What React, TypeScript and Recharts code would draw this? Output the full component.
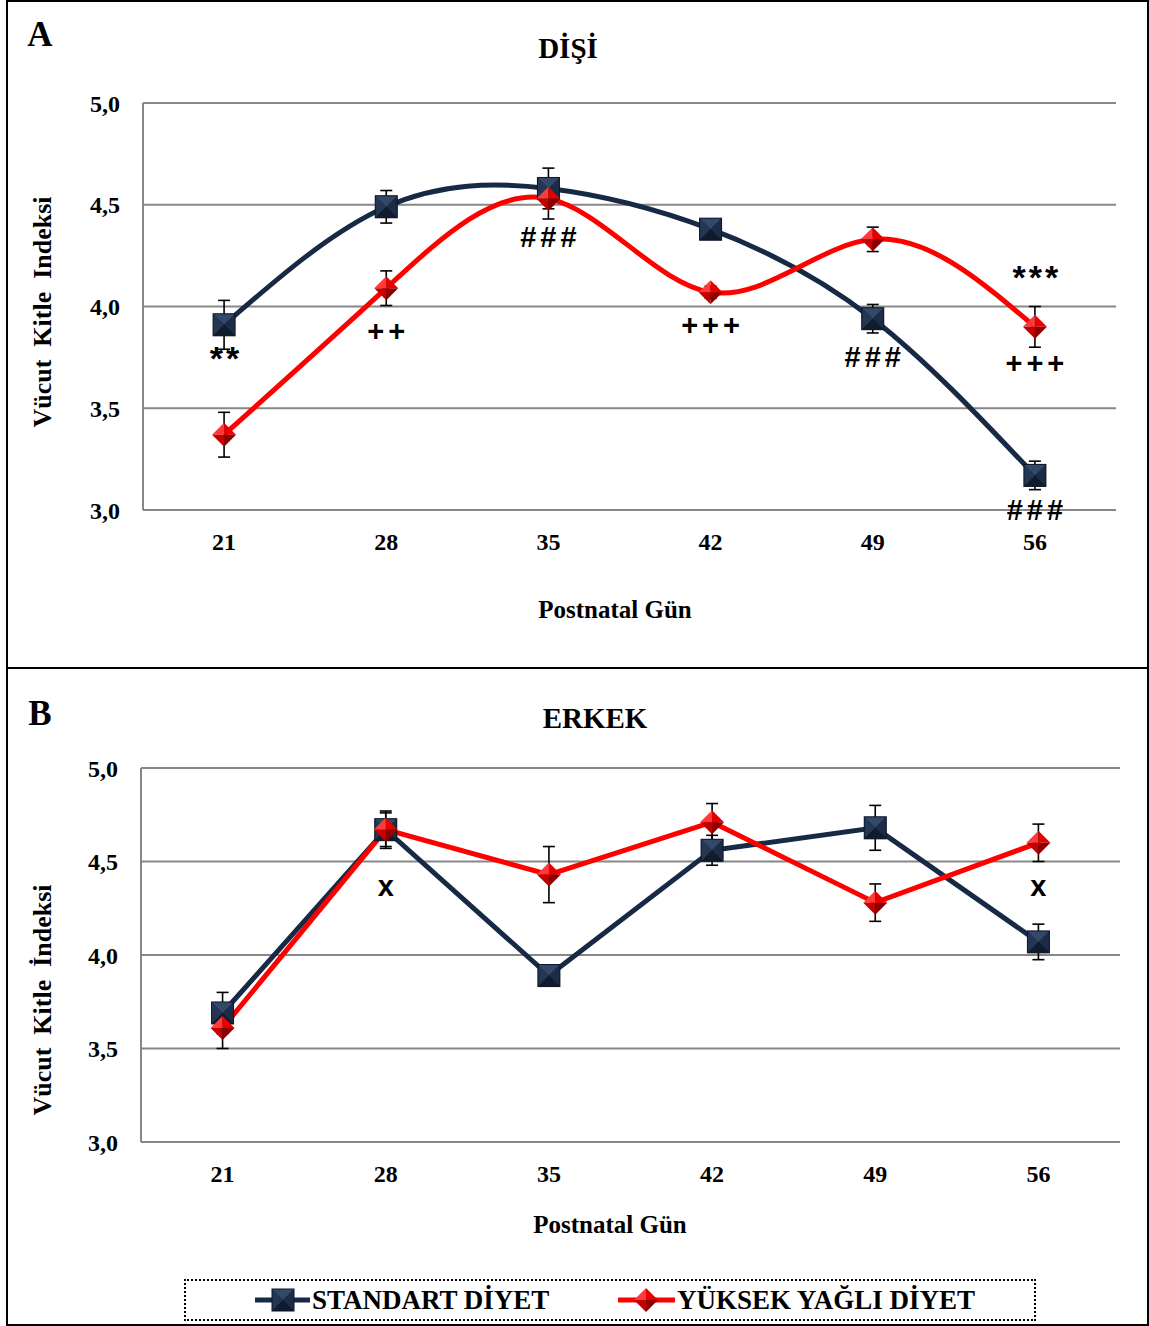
import { LineChart, Line, XAxis, YAxis, CartesianGrid, ErrorBar, ReferenceDot } from "recharts";

const SERIF = '"Liberation Serif", "Times New Roman", serif';
const SANS = '"Liberation Sans", Arial, sans-serif';
const NAVY = "#172a45";
const RED = "#ff0000";
const GRID = "#878787";

// postnatal days
const days = [21, 28, 35, 42, 49, 56];
const yTicks = [3, 3.5, 4, 4.5, 5];

// A - DİŞİ
const femaleStandard = [3.91, 4.49, 4.58, 4.38, 3.94, 3.17];
const femaleStandardErr = [0.12, 0.08, 0.1, 0.03, 0.07, 0.07];
const femaleHighFat = [3.37, 4.09, 4.53, 4.07, 4.33, 3.9];
const femaleHighFatErr = [0.11, 0.085, 0.1, 0.03, 0.06, 0.1];

// B - ERKEK
const maleStandard = [3.69, 4.67, 3.89, 4.56, 4.68, 4.07];
const maleStandardErr = [0.11, 0.1, 0.02, 0.08, 0.12, 0.095];
const maleHighFat = [3.61, 4.67, 4.43, 4.71, 4.28, 4.6];
const maleHighFatErr = [0.11, 0.09, 0.15, 0.1, 0.1, 0.1];

// significance marks (day, y-value of the text, text)
const femaleMarks = [
  { day: 21, at: 3.76, text: "**" },
  { day: 28, at: 3.88, text: "++" },
  { day: 35, at: 4.34, text: "###" },
  { day: 42, at: 3.91, text: "+++" },
  { day: 49, at: 3.75, text: "###" },
  { day: 56, at: 4.16, text: "***" },
  { day: 56, at: 3.72, text: "+++" },
  { day: 56, at: 3.0, text: "###" },
];
const maleMarks = [
  { day: 28, at: 4.37, text: "x" },
  { day: 56, at: 4.37, text: "x" },
];

type Row = { day: number; std: number; stdErr: number; hf: number; hfErr: number };
type Mark = { day: number; at: number; text: string };

const buildRows = (s: number[], se: number[], h: number[], he: number[]): Row[] =>
  days.map((d, i) => ({ day: d, std: s[i], stdErr: se[i], hf: h[i], hfErr: he[i] }));

const femaleRows = buildRows(femaleStandard, femaleStandardErr, femaleHighFat, femaleHighFatErr);
const maleRows = buildRows(maleStandard, maleStandardErr, maleHighFat, maleHighFatErr);

const fmt = (v: number) => v.toFixed(1).replace(".", ",");

const SquareIcon = ({ cx, cy, h = 11 }: { cx: number; cy: number; h?: number }) => (
  <g>
    <rect x={cx - h} y={cy - h} width={2 * h} height={2 * h} fill="#15233a" />
    <polygon points={`${cx - h},${cy - h} ${cx + h},${cy - h} ${cx},${cy}`} fill="#34496a" />
    <polygon points={`${cx - h},${cy - h} ${cx - h},${cy + h} ${cx},${cy}`} fill="#243653" />
    <polygon points={`${cx + h},${cy - h} ${cx + h},${cy + h} ${cx},${cy}`} fill="#1c2c46" />
    <polygon points={`${cx - h},${cy + h} ${cx + h},${cy + h} ${cx},${cy}`} fill="#101b2d" />
    <rect x={cx - h} y={cy - h} width={2 * h} height={2 * h} fill="none" stroke="#0c1626" strokeWidth={1} />
  </g>
);

const DiamondIcon = ({ cx, cy, h = 12 }: { cx: number; cy: number; h?: number }) => (
  <g>
    <polygon points={`${cx},${cy - h} ${cx - h},${cy} ${cx},${cy}`} fill="#ff3a3a" />
    <polygon points={`${cx},${cy - h} ${cx + h},${cy} ${cx},${cy}`} fill="#e80000" />
    <polygon points={`${cx - h},${cy} ${cx},${cy + h} ${cx},${cy}`} fill="#c40000" />
    <polygon points={`${cx + h},${cy} ${cx},${cy + h} ${cx},${cy}`} fill="#8e0000" />
  </g>
);

const squareDot = (p: any) =>
  p.cx == null ? <g key={`s${p.index}`} /> : <g key={`s${p.index}`}><SquareIcon cx={p.cx} cy={p.cy} /></g>;
const diamondDot = (p: any) =>
  p.cx == null ? <g key={`d${p.index}`} /> : <g key={`d${p.index}`}><DiamondIcon cx={p.cx} cy={p.cy} /></g>;

const markShape = (text: string) => (p: any) => {
  const star = text.includes("*");
  return (
    <text
      x={p.cx + 2}
      y={p.cy + (star ? 3 : 0)}
      textAnchor="middle"
      dominantBaseline="central"
      fontFamily={SANS}
      fontWeight={700}
      fontSize={star ? 34 : 29}
      letterSpacing={star ? 3 : 4}
      fill="#000"
    >
      {text}
    </text>
  );
};

type PanelProps = {
  rows: Row[];
  marks: Mark[];
  curve: "natural" | "linear";
  height: number;
  margin: { top: number; right: number; bottom: number; left: number };
  yWidth: number;
  tickGap: number;
};

const Panel = ({ rows, marks, curve, height, margin, yWidth, tickGap }: PanelProps) => {
  const tickStyle = { fill: "#000", fontSize: 24, fontWeight: 700, fontFamily: SERIF };
  return (
    <LineChart width={1149} height={height} data={rows} margin={margin}>
      <CartesianGrid vertical={false} stroke={GRID} strokeWidth={2} />
      <XAxis
        dataKey="day"
        type="number"
        domain={[17.5, 59.5]}
        ticks={days}
        allowDataOverflow
        height={40}
        tick={tickStyle}
        tickLine={false}
        tickMargin={tickGap}
        axisLine={{ stroke: GRID, strokeWidth: 2 }}
      />
      <YAxis
        domain={[3, 5]}
        ticks={yTicks}
        width={yWidth}
        tick={tickStyle}
        tickFormatter={fmt}
        tickLine={false}
        tickMargin={17}
        axisLine={{ stroke: GRID, strokeWidth: 2 }}
      />
      <Line
        type={curve}
        dataKey="std"
        stroke={NAVY}
        strokeWidth={5}
        dot={squareDot}
        activeDot={false}
        isAnimationActive={false}
      >
        <ErrorBar dataKey="stdErr" direction="y" width={6} stroke="#000" strokeWidth={1.6} />
      </Line>
      <Line
        type={curve}
        dataKey="hf"
        stroke={RED}
        strokeWidth={5}
        dot={diamondDot}
        activeDot={false}
        isAnimationActive={false}
      >
        <ErrorBar dataKey="hfErr" direction="y" width={6} stroke="#000" strokeWidth={1.6} />
      </Line>
      {marks.map((m, i) => (
        <ReferenceDot key={i} x={m.day} y={m.at} r={0} ifOverflow="visible" shape={markShape(m.text)} />
      ))}
    </LineChart>
  );
};

const abs = (left: number, top: number, size: number, extra: any = {}) => ({
  position: "absolute" as const,
  left,
  top,
  transform: "translate(-50%, -50%)",
  fontFamily: SERIF,
  fontWeight: 700,
  fontSize: size,
  lineHeight: 1,
  whiteSpace: "pre" as const,
  color: "#000",
  ...extra,
});

export default function App() {
  return (
    <div style={{ position: "absolute", left: 0, top: 0, width: 1149, height: 1326, background: "#fff", overflow: "hidden" }}>
      <div style={{ position: "absolute", left: 0, top: 0 }}>
        <Panel
          rows={femaleRows}
          marks={femaleMarks}
          curve="natural"
          height={668}
          margin={{ top: 103, right: 33, bottom: 118, left: 0 }}
          yWidth={143}
          tickGap={17}
        />
      </div>
      <div style={{ position: "absolute", left: 0, top: 668 }}>
        <Panel
          rows={maleRows}
          marks={maleMarks}
          curve="linear"
          height={605}
          margin={{ top: 100, right: 29, bottom: 91, left: 0 }}
          yWidth={141}
          tickGap={17}
        />
      </div>

      {/* frame */}
      <div style={{ position: "absolute", left: 6, top: 0, width: 1139, height: 1322, border: "2px solid #000" }} />
      <div style={{ position: "absolute", left: 6, top: 667, width: 1141, height: 2, background: "#000" }} />

      {/* panel texts */}
      <div style={abs(40, 34, 35)}>A</div>
      <div style={abs(568, 48, 29)}>DİŞİ</div>
      <div style={abs(615, 609, 25)}>Postnatal Gün</div>
      <div style={abs(43, 312, 26, { transform: "translate(-50%, -50%) rotate(-90deg)" })}>Vücut  Kitle  Indeksi</div>

      <div style={abs(40, 713, 35)}>B</div>
      <div style={abs(595, 718, 29)}>ERKEK</div>
      <div style={abs(610, 1224, 25)}>Postnatal Gün</div>
      <div style={abs(43, 1000, 26, { transform: "translate(-50%, -50%) rotate(-90deg)" })}>Vücut  Kitle  İndeksi</div>

      {/* legend */}
      <div
        style={{
          position: "absolute",
          left: 184,
          top: 1279,
          width: 848,
          height: 38,
          border: "2px dotted #000",
        }}
      />
      <svg style={{ position: "absolute", left: 0, top: 1279 }} width={1149} height={44}>
        <line x1={255} x2={310} y1={21} y2={21} stroke={NAVY} strokeWidth={5} />
        <SquareIcon cx={283} cy={21} />
        <line x1={618} x2={675} y1={21} y2={21} stroke={RED} strokeWidth={5} />
        <DiamondIcon cx={646} cy={21} />
      </svg>
      <div style={{ ...abs(312, 1300, 27), transform: "translate(0, -50%)" }}>STANDART DİYET</div>
      <div style={{ ...abs(677, 1300, 27), transform: "translate(0, -50%)" }}>YÜKSEK YAĞLI DİYET</div>
    </div>
  );
}
